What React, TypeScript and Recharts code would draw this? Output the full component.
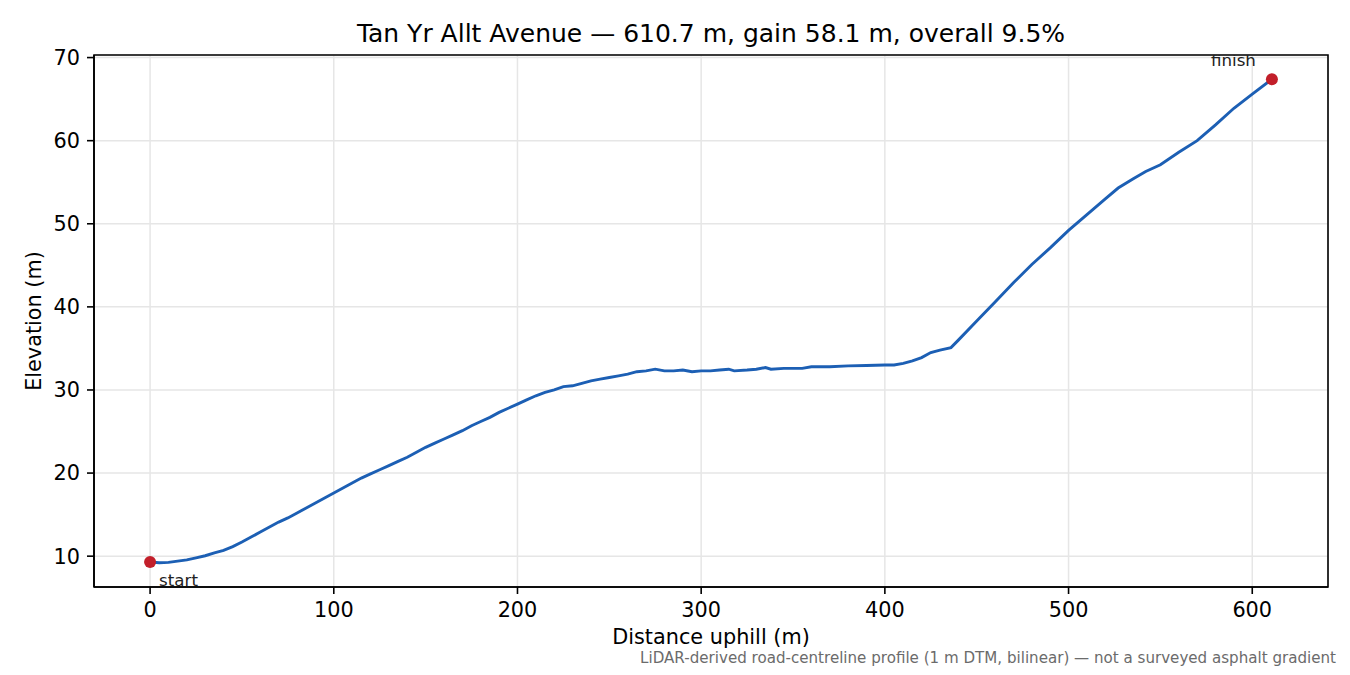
import React from 'react';
import { ComposedChart, Line, Scatter, XAxis, YAxis, CartesianGrid, ReferenceArea } from 'recharts';

const DIST = [
  0, 5, 10, 15, 20, 25, 30, 35, 40, 45, 50, 55, 60, 65, 70, 75, 80, 85, 90, 95,
  100, 105, 110, 115, 120, 125, 130, 135, 140, 145, 150, 155, 160, 165, 170, 175, 180, 185, 190, 195,
  200, 205, 210, 215, 220, 225, 230, 235, 240, 245, 250, 255, 260, 265, 270, 275, 280, 285, 290, 295,
  300, 305, 310, 315, 318, 325, 330, 335, 338, 345, 350, 355, 360, 370, 380, 390, 400, 405, 410, 415,
  420, 425, 430, 436, 440, 450, 460, 470, 480, 490, 500, 510, 520, 527, 535, 542, 550, 560, 570, 580,
  590, 600, 610.7,
];
const ELEV = [
  9.3, 9.2, 9.25, 9.4, 9.55, 9.8, 10.05, 10.4, 10.7, 11.15, 11.7, 12.3, 12.9, 13.5, 14.1, 14.6, 15.2, 15.8, 16.4, 17.0,
  17.6, 18.2, 18.8, 19.4, 19.9, 20.4, 20.9, 21.4, 21.9, 22.5, 23.1, 23.6, 24.1, 24.6, 25.1, 25.7, 26.2, 26.7, 27.3, 27.8,
  28.3, 28.8, 29.3, 29.7, 30.0, 30.4, 30.5, 30.8, 31.1, 31.3, 31.5, 31.7, 31.9, 32.2, 32.3, 32.5, 32.3, 32.3, 32.4, 32.2,
  32.3, 32.3, 32.4, 32.5, 32.3, 32.4, 32.5, 32.7, 32.5, 32.6, 32.6, 32.6, 32.8, 32.8, 32.9, 32.95, 33.0, 33.0, 33.2, 33.5,
  33.9, 34.5, 34.8, 35.1, 36.0, 38.3, 40.6, 42.9, 45.1, 47.1, 49.2, 51.1, 53.0, 54.3, 55.4, 56.3, 57.1, 58.6, 60.0, 61.9,
  63.9, 65.6, 67.4,
];
const X_TICKS = [0, 100, 200, 300, 400, 500, 600];
const Y_TICKS = [10, 20, 30, 40, 50, 60, 70];
const ENDPOINT_NAMES = ['start', 'finish'];
const TITLE = 'Tan Yr Allt Avenue — 610.7 m, gain 58.1 m, overall 9.5%';
const X_LABEL = 'Distance uphill (m)';
const Y_LABEL = 'Elevation (m)';
const FOOTNOTE = 'LiDAR-derived road-centreline profile (1 m DTM, bilinear) — not a surveyed asphalt gradient';

const profile = DIST.map((d, i) => ({ d, e: ELEV[i] }));
const last = DIST.length - 1;
const endpoints = [
  { d: DIST[0], e: ELEV[0], name: ENDPOINT_NAMES[0] },
  { d: DIST[last], e: ELEV[last], name: ENDPOINT_NAMES[1] },
];

const xMin = Math.min(...DIST);
const xMax = Math.max(...DIST);
const yMin = Math.min(...ELEV);
const yMax = Math.max(...ELEV);
const xPad = (xMax - xMin) * 0.05;
const yPad = (yMax - yMin) * 0.05;
const X_DOMAIN: [number, number] = [xMin - xPad, xMax + xPad];
const Y_DOMAIN: [number, number] = [yMin - yPad, yMax + yPad];

const FONT = 'DejaVu Sans, Verdana, sans-serif';
const LINE_COLOR = '#1c5fb4';
const DOT_COLOR = '#c21f2a';

const EndpointShape = (props: any) => {
  const { cx, cy, payload } = props;
  const isStart = payload.name === 'start';
  return (
    <g>
      <circle cx={cx} cy={cy} r={6} fill={DOT_COLOR} />
      <text
        x={isStart ? cx + 9 : cx - 16}
        y={isStart ? cy + 24 : cy - 13}
        textAnchor={isStart ? 'start' : 'end'}
        fontSize={16.7}
        fill="#222"
        fontFamily={FONT}
      >
        {payload.name}
      </text>
    </g>
  );
};

export default function App() {
  return (
    <div style={{ position: 'absolute', left: 0, top: 0, width: 1350, height: 675, background: '#fff', fontFamily: FONT }}>
      <ComposedChart
        width={1350}
        height={675}
        margin={{ top: 55, right: 22, bottom: 58, left: 0 }}
      >
        <CartesianGrid stroke="#e6e6e6" strokeWidth={1.5} />
        <XAxis
          type="number"
          dataKey="d"
          domain={X_DOMAIN}
          ticks={X_TICKS}
          allowDataOverflow
          height={30}
          tickSize={7}
          tickMargin={8}
          axisLine={{ stroke: '#000', strokeWidth: 1.6 }}
          tickLine={{ stroke: '#000', strokeWidth: 1.6 }}
          tick={{ fill: '#000', fontSize: 20.8, fontFamily: FONT }}
        />
        <YAxis
          type="number"
          dataKey="e"
          domain={Y_DOMAIN}
          ticks={Y_TICKS}
          allowDataOverflow
          width={94}
          tickSize={7}
          tickMargin={7}
          axisLine={{ stroke: '#000', strokeWidth: 1.6 }}
          tickLine={{ stroke: '#000', strokeWidth: 1.6 }}
          tick={{ fill: '#000', fontSize: 20.8, fontFamily: FONT }}
        />
        <ReferenceArea
          x1={X_DOMAIN[0]}
          x2={X_DOMAIN[1]}
          y1={Y_DOMAIN[0]}
          y2={Y_DOMAIN[1]}
          fill="none"
          fillOpacity={0}
          stroke="#000"
          strokeWidth={1.6}
          ifOverflow="visible"
        />
        <Line
          data={profile}
          dataKey="e"
          type="linear"
          stroke={LINE_COLOR}
          strokeWidth={2.9}
          dot={false}
          activeDot={false}
          isAnimationActive={false}
        />
        <Scatter data={endpoints} dataKey="e" shape={EndpointShape} isAnimationActive={false} />
      </ComposedChart>
      <svg
        width={1350}
        height={675}
        style={{ position: 'absolute', left: 0, top: 0, pointerEvents: 'none' }}
      >
        <text x={711} y={42} textAnchor="middle" fontSize={25} fill="#000" fontFamily={FONT}>{TITLE}</text>
        <text x={711} y={644} textAnchor="middle" fontSize={20.8} fill="#000" fontFamily={FONT}>{X_LABEL}</text>
        <text
          x={0}
          y={0}
          transform="translate(41 321) rotate(-90)"
          textAnchor="middle"
          fontSize={20.8}
          fill="#000"
          fontFamily={FONT}
        >
          {Y_LABEL}
        </text>
        <text x={1336} y={663} textAnchor="end" fontSize={15.1} fill="#6b6b6b" fontFamily={FONT}>{FOOTNOTE}</text>
      </svg>
    </div>
  );
}
